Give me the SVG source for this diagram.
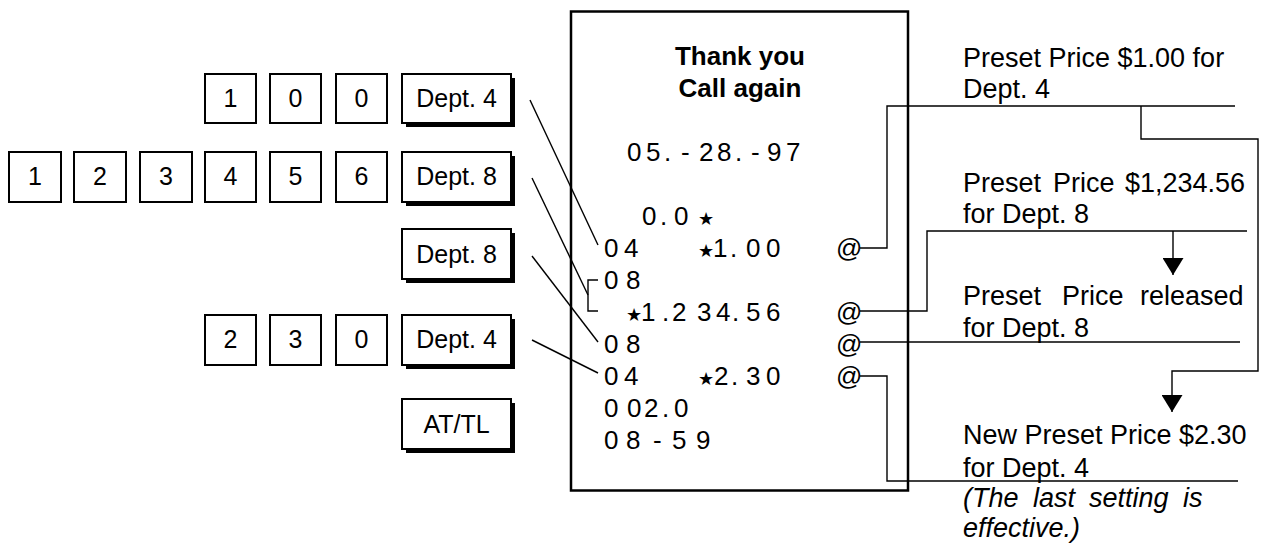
<svg xmlns="http://www.w3.org/2000/svg" width="1264" height="544" viewBox="0 0 1264 544">
<style>
.key{fill:#fff;stroke:#000;stroke-width:2}
.shadow{fill:#000}
.kt{font-family:"Liberation Sans",Arial,sans-serif;font-size:25px;text-anchor:middle;fill:#000}
.lbl{font-family:"Liberation Sans",Arial,sans-serif;font-size:27px;fill:#000}
.it{font-style:italic}
.rc{font-family:"Liberation Sans",Arial,sans-serif;font-size:26px;fill:#000}
.star{font-family:"DejaVu Sans",sans-serif;font-size:18px}
.hd{font-family:"Liberation Sans",Arial,sans-serif;font-weight:bold;font-size:26px;text-anchor:middle;fill:#000}
.ln{fill:none;stroke:#000;stroke-width:1.4}
</style>
<defs>
<marker id="arr" markerUnits="userSpaceOnUse" markerWidth="17" markerHeight="21" viewBox="0 0 17 21" refX="17" refY="10.5" orient="auto">
<path d="M0,0 L17,10.5 L0,21 Z" fill="#000"/>
</marker>
</defs>
<rect width="1264" height="544" fill="#fff"/>

<g id="row1">
<rect class="key" x="205" y="74" width="51" height="49"/><text class="kt" x="230.5" y="107">1</text>
<rect class="key" x="270" y="74" width="51" height="49"/><text class="kt" x="295.5" y="107">0</text>
<rect class="key" x="336" y="74" width="51" height="49"/><text class="kt" x="361.5" y="107">0</text>
<rect class="shadow" x="406" y="78" width="109" height="49"/>
<rect class="key" x="402" y="74" width="109" height="49"/><text class="kt" x="456.5" y="107">Dept. 4</text>
</g>

<g id="row2">
<rect class="key" x="9" y="152" width="52" height="50"/><text class="kt" x="35" y="185">1</text>
<rect class="key" x="74" y="152" width="52" height="50"/><text class="kt" x="100" y="185">2</text>
<rect class="key" x="140" y="152" width="52" height="50"/><text class="kt" x="166" y="185">3</text>
<rect class="key" x="205" y="152" width="51" height="50"/><text class="kt" x="230.5" y="185">4</text>
<rect class="key" x="270" y="152" width="51" height="50"/><text class="kt" x="295.5" y="185">5</text>
<rect class="key" x="336" y="152" width="51" height="50"/><text class="kt" x="361.5" y="185">6</text>
<rect class="shadow" x="406" y="156" width="109" height="50"/>
<rect class="key" x="402" y="152" width="109" height="50"/><text class="kt" x="456.5" y="185">Dept. 8</text>
</g>

<g id="row3">
<rect class="shadow" x="406" y="233" width="109" height="50"/>
<rect class="key" x="402" y="229" width="109" height="50"/><text class="kt" x="456.5" y="263">Dept. 8</text>
</g>

<g id="row4">
<rect class="key" x="205" y="315" width="51" height="50"/><text class="kt" x="230.5" y="348">2</text>
<rect class="key" x="270" y="315" width="51" height="50"/><text class="kt" x="295.5" y="348">3</text>
<rect class="key" x="336" y="315" width="51" height="50"/><text class="kt" x="361.5" y="348">0</text>
<rect class="shadow" x="406" y="319" width="109" height="50"/>
<rect class="key" x="402" y="315" width="109" height="50"/><text class="kt" x="456.5" y="348">Dept. 4</text>
</g>

<g id="row5">
<rect class="shadow" x="406" y="403" width="109" height="50"/>
<rect class="key" x="402" y="399" width="109" height="50"/><text class="kt" x="456.5" y="433">AT/TL</text>
</g>

<g id="receipt">
<rect x="571" y="11.5" width="337" height="479" fill="#fff" stroke="#000" stroke-width="2.5"/>
<text class="hd" x="740" y="65">Thank you</text>
<text class="hd" x="740" y="97">Call again</text>
<text class="rc" y="161" x="627 646 664 681 699 717 735 751 767 786">05.-28.-97</text>
<text class="rc" y="225"><tspan x="642 660 674">0.0</tspan><tspan class="star" x="698">★</tspan></text>
<text class="rc" y="257"><tspan x="604 624">04</tspan><tspan class="star" x="698">★</tspan><tspan x="713 730 746 766">1.00</tspan><tspan x="836">@</tspan></text>
<text class="rc" y="289" x="604 626">08</text>
<text class="rc" y="321"><tspan class="star" x="626">★</tspan><tspan x="641 662 672 697 716 732 746 766">1.234.56</tspan><tspan x="836">@</tspan></text>
<text class="rc" y="353"><tspan x="604 626">08</tspan><tspan x="836">@</tspan></text>
<text class="rc" y="385"><tspan x="604 624">04</tspan><tspan class="star" x="698">★</tspan><tspan x="714 731 746 766">2.30</tspan><tspan x="836">@</tspan></text>
<text class="rc" y="417" x="604 627 644 662 674">002.0</text>
<text class="rc" y="449" x="604 626 653 672 696">08-59</text>
</g>

<g id="labels">
<text class="lbl" x="963" y="67">Preset Price $1.00 for</text>
<text class="lbl" x="963" y="98">Dept. 4</text>
<text class="lbl" y="192"><tspan x="963">Preset</tspan><tspan x="1053">Price</tspan><tspan x="1125">$1,234.56</tspan></text>
<text class="lbl" x="963" y="223">for Dept. 8</text>
<text class="lbl" y="305"><tspan x="963">Preset</tspan><tspan x="1062">Price</tspan><tspan x="1140">released</tspan></text>
<text class="lbl" x="963" y="337">for Dept. 8</text>
<text class="lbl" x="963" y="444">New Preset Price $2.30</text>
<text class="lbl" x="963" y="477">for Dept. 4</text>
<text class="lbl it" y="507"><tspan x="963">(The</tspan><tspan x="1033">last</tspan><tspan x="1089">setting</tspan><tspan x="1183">is</tspan></text>
<text class="lbl it" x="963" y="537">effective.)</text>
</g>

<g id="connectors">
<path class="ln" d="M530,100 L598,245"/>
<path class="ln" d="M532,178 L588,295"/>
<path class="ln" d="M598,280 H588 V311 H598"/>
<path class="ln" d="M532,256 L598,342"/>
<path class="ln" d="M532,340 L598,373"/>
<path class="ln" d="M860,248 H887 V106 H1235"/>
<path class="ln" d="M1141,106 V139 H1258 V371 H1172 V412" marker-end="url(#arr)"/>
<path class="ln" d="M860,311 H927 V231 H1247"/>
<path class="ln" d="M1173,231 V275" marker-end="url(#arr)"/>
<path class="ln" d="M860,342 H1240"/>
<path class="ln" d="M860,376 H887 V481 H1238"/>
</g>
</svg>
